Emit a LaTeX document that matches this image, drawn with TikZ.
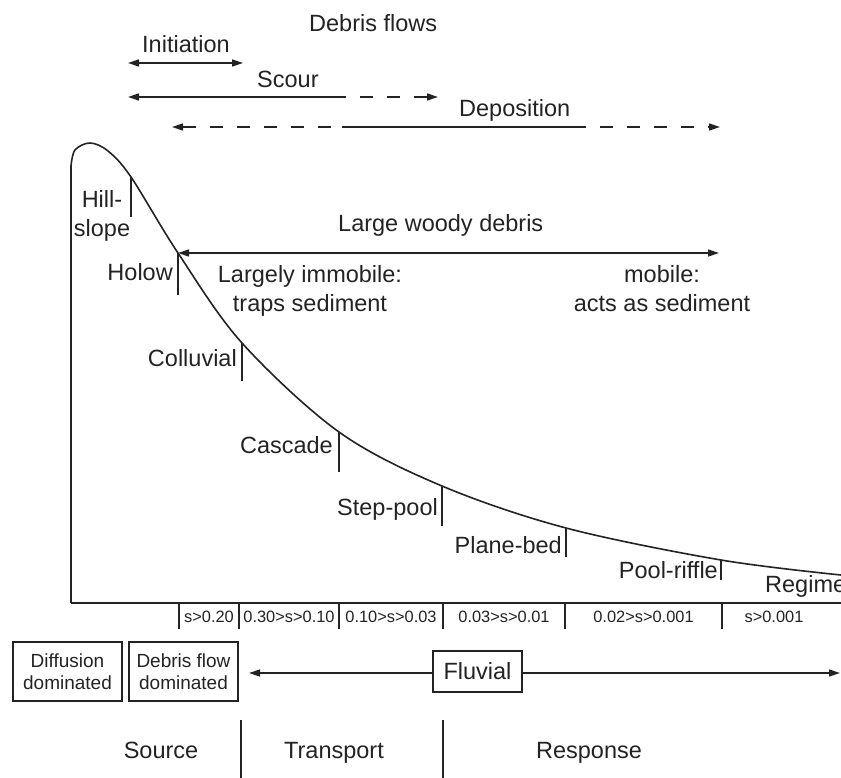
\documentclass[tikz,border=0pt]{standalone}
\usepackage{fontspec}
\setmainfont{Liberation Sans}
\usetikzlibrary{arrows.meta}
\definecolor{ink}{RGB}{35,35,35}
\begin{document}
\begin{tikzpicture}[x=1pt,y=-1pt,
  lab/.style={font=\fontsize{23.5}{29}\selectfont, text=ink, inner sep=0pt},
  sm/.style={font=\fontsize{16.4}{19}\selectfont, text=ink, inner sep=0pt},
  bx/.style={draw=ink, line width=1.6pt, font=\fontsize{19}{22}\selectfont, text=ink, align=center, inner sep=0pt},
  ln/.style={draw=ink, line width=1.6pt},
  tk/.style={draw=ink, line width=1.4pt},
  dsh/.style={dash pattern=on 13pt off 14pt},
  tipR/.style={-{Triangle[length=11pt,width=7pt]}},
  tipL/.style={{Triangle[length=11pt,width=7pt]}-},
  tipB/.style={{Triangle[length=11pt,width=7pt]}-{Triangle[length=11pt,width=7pt]}}]
\useasboundingbox (0,0) rectangle (841,778);

% ---- curve and axes
\coordinate (ax0) at (71,603);
\coordinate (ax1) at (841,603);
\coordinate (c1) at (131,177);
\coordinate (c2) at (178,253);
\coordinate (c3) at (242,343);
\coordinate (c4) at (339,432);
\coordinate (c5) at (442,486);
\coordinate (c6) at (566,528);
\coordinate (c7) at (721,560);
\draw[ln] (ax0) -- (71,166) -- plot[smooth,tension=0.55] coordinates {(71,166) (75,150) (90,143) (108,151) (131,177) (178,253) (242,343) (339,432) (442,486) (566,528) (721,560) (841,575)};
\draw[ln] (ax0) -- (ax1);

% ticks on curve
\draw[tk] (c1) -- ++(0,40);
\draw[tk] (c2) -- ++(0,42);
\draw[tk] (c3) -- ++(0,38);
\draw[tk] (c4) -- ++(0,40);
\draw[tk] (c5) -- ++(0,40);
\draw[tk] (c6) -- ++(0,29);
\draw[tk] (c7) -- ++(0,20);

% curve labels
\node[lab, align=center, anchor=base] (hill) at (102,237) {Hill-\\slope};
\node[lab, anchor=base east] (holow) at (173,280) {Holow};
\node[lab, anchor=base east] (coll) at (237,366) {Colluvial};
\node[lab, anchor=base east] (casc) at (333,453) {Cascade};
\node[lab, anchor=base east] (steppool) at (438,515) {Step-pool};
\node[lab, anchor=base east] (plane) at (562,553) {Plane-bed};
\node[lab, anchor=base east] (pool) at (718,578) {Pool-riffle};
\node[lab, anchor=base west] (regime) at (765,592) {Regime};

% ---- top arrows
\node[lab, anchor=base west] (df) at (309,32) {Debris flows};
\node[lab, anchor=base west] (init) at (142,53) {Initiation};
\node[lab, anchor=base west] (scour) at (257,88) {Scour};
\node[lab, anchor=base west] (depo) at (459,117) {Deposition};

\coordinate (iL) at (128,63);
\coordinate (iR) at (243,63);
\draw[ln, tipB] (iL) -- (iR);

\coordinate (sL) at (128,97);
\coordinate (sM) at (333,97);
\coordinate (sR) at (438,97);
\draw[ln, tipL] (sL) -- (sM);
\draw[ln, dsh, tipR] (sM) -- (sR);

\coordinate (dL) at (172,127);
\coordinate (dM1) at (342,127);
\coordinate (dM2) at (573,127);
\coordinate (dR) at (720,127);
\draw[ln, dsh, tipL] (dL) -- (dM1);
\draw[ln] (dM1) -- (dM2);
\draw[ln, dsh, tipR] (dM2) -- (dR);

% ---- large woody debris
\node[lab, anchor=base west] (lwd) at (338,232) {Large woody debris};
\coordinate (wR) at (719,253);
\draw[ln, tipB] (c2) -- (wR);
\node[lab, align=center, anchor=base] (immob) at (310,312) {Largely immobile:\\traps sediment};
\node[lab, align=center, anchor=base] (mob) at (662,312) {mobile:\\acts as sediment};

% ---- slope ticks below axis
\foreach \x/\n in {179/t1,239/t2,339/t3,443/t4,565/t5,722/t6}{
  \coordinate (\n) at (\x,603);
  \draw[tk] (\n) -- ++(0,26);
}
\node[sm, anchor=base] (s1) at (209,622) {s>0.20};
\node[sm, anchor=base] (s2) at (289,622) {0.30>s>0.10};
\node[sm, anchor=base] (s3) at (391,622) {0.10>s>0.03};
\node[sm, anchor=base] (s4) at (504,622) {0.03>s>0.01};
\node[sm, anchor=base] (s5) at (643.5,622) {0.02>s>0.001};
\node[sm, anchor=base] (s6) at (774,622) {s>0.001};

% ---- process boxes
\node[bx, minimum width=109pt, minimum height=59pt] (diff) at (67.5,671.5) {Diffusion\\dominated};
\node[bx, minimum width=109pt, minimum height=59pt] (debf) at (183.5,671.5) {Debris flow\\dominated};
\node[bx, minimum width=89pt, minimum height=41pt, font=\fontsize{23.5}{29}\selectfont] (fluv) at (477.5,671.5) {Fluvial};
\coordinate (fL) at (249,673);
\coordinate (fR) at (840,673);
\draw[ln, tipR] (fluv.west |- fL) -- (fL);
\draw[ln, tipR] (fluv.east |- fR) -- (fR);

% ---- zones
\coordinate (z1a) at (241,720);
\coordinate (z1b) at (241,778);
\coordinate (z2a) at (443,720);
\coordinate (z2b) at (443,778);
\draw[tk] (z1a) -- (z1b);
\draw[tk] (z2a) -- (z2b);
\node[lab, anchor=base] (src) at (161,758) {Source};
\node[lab, anchor=base] (trn) at (334,758) {Transport};
\node[lab, anchor=base] (rsp) at (589,758) {Response};
\end{tikzpicture}
\end{document}
